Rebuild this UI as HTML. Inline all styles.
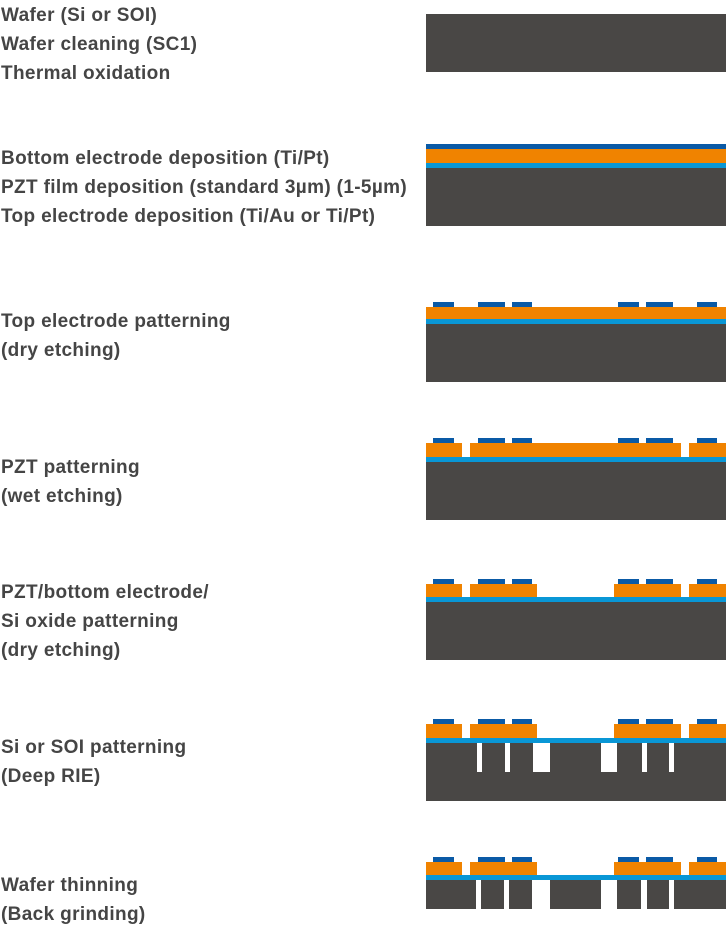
<!DOCTYPE html>
<html><head><meta charset="utf-8"><style>
body{margin:0;width:726px;height:926px;background:#fff;overflow:hidden;position:relative}
.t{position:absolute;left:1px;font-family:"Liberation Sans",sans-serif;font-weight:bold;font-size:19px;letter-spacing:0.35px;color:#454545;line-height:22px;white-space:nowrap;transform:translateY(-10px)}
svg{position:absolute;left:0;top:0}
</style></head><body>
<div class="t" style="top:15px">Wafer (Si or SOI)</div>
<div class="t" style="top:44px">Wafer cleaning (SC1)</div>
<div class="t" style="top:73px">Thermal oxidation</div>
<div class="t" style="top:158px">Bottom electrode deposition (Ti/Pt)</div>
<div class="t" style="top:187px">PZT film deposition (standard 3µm) (1-5µm)</div>
<div class="t" style="top:216px">Top electrode deposition (Ti/Au or Ti/Pt)</div>
<div class="t" style="top:321px">Top electrode patterning</div>
<div class="t" style="top:350px">(dry etching)</div>
<div class="t" style="top:467px">PZT patterning</div>
<div class="t" style="top:496px">(wet etching)</div>
<div class="t" style="top:592px">PZT/bottom electrode/</div>
<div class="t" style="top:621px">Si oxide patterning</div>
<div class="t" style="top:650px">(dry etching)</div>
<div class="t" style="top:747px">Si or SOI patterning</div>
<div class="t" style="top:776px">(Deep RIE)</div>
<div class="t" style="top:885px">Wafer thinning</div>
<div class="t" style="top:914px">(Back grinding)</div>
<svg width="726" height="926" xmlns="http://www.w3.org/2000/svg">
<g fill="#494745">
<rect x="426" y="14" width="300" height="58"/>
<rect x="426" y="168" width="300" height="58"/>
<rect x="426" y="324" width="300" height="58"/>
<rect x="426" y="462" width="300" height="58"/>
<rect x="426" y="602" width="300" height="58"/>
<rect x="426" y="743" width="300" height="58"/>
<rect x="426" y="880" width="50" height="29"/><rect x="481" y="880" width="23" height="29"/><rect x="509" y="880" width="23" height="29"/><rect x="550" y="880" width="51" height="29"/><rect x="617" y="880" width="24" height="29"/><rect x="647" y="880" width="22" height="29"/><rect x="674" y="880" width="52" height="29"/>
</g>
<g fill="#fff">
<rect x="477" y="743" width="5" height="29"/><rect x="505" y="743" width="5" height="29"/><rect x="533" y="743" width="17" height="29"/><rect x="601" y="743" width="16" height="29"/><rect x="642" y="743" width="5" height="29"/><rect x="669" y="743" width="5" height="29"/>
</g>
<g fill="#0997d6">
<rect x="426" y="163" width="300" height="5"/>
<rect x="426" y="319" width="300" height="5"/>
<rect x="426" y="457" width="300" height="5"/>
<rect x="426" y="597" width="300" height="5"/>
<rect x="426" y="738" width="300" height="5"/>
<rect x="426" y="875" width="300" height="5"/>
</g>
<g fill="#f08300">
<rect x="426" y="149" width="300" height="14"/>
<rect x="426" y="307" width="300" height="12"/>
<rect x="426" y="443" width="36" height="14"/><rect x="470" y="443" width="211" height="14"/><rect x="689" y="443" width="37" height="14"/>
<rect x="426" y="584" width="36" height="13"/><rect x="470" y="584" width="67" height="13"/><rect x="614" y="584" width="67" height="13"/><rect x="689" y="584" width="37" height="13"/>
<rect x="426" y="724" width="36" height="14"/><rect x="470" y="724" width="67" height="14"/><rect x="614" y="724" width="67" height="14"/><rect x="689" y="724" width="37" height="14"/>
<rect x="426" y="862" width="36" height="13"/><rect x="470" y="862" width="67" height="13"/><rect x="614" y="862" width="67" height="13"/><rect x="689" y="862" width="37" height="13"/>
</g>
<g fill="#0a5aa6">
<rect x="426" y="144" width="300" height="5"/>
</g>
<defs><g id="e" fill="#0a5aa6">
<rect x="433" y="0" width="21" height="5"/><rect x="478" y="0" width="27" height="5"/><rect x="512" y="0" width="20" height="5"/><rect x="618" y="0" width="21" height="5"/><rect x="646" y="0" width="27" height="5"/><rect x="697" y="0" width="20" height="5"/>
</g></defs>
<use href="#e" y="302"/><use href="#e" y="438"/><use href="#e" y="579"/><use href="#e" y="719"/><use href="#e" y="857"/>
</svg>
</body></html>
